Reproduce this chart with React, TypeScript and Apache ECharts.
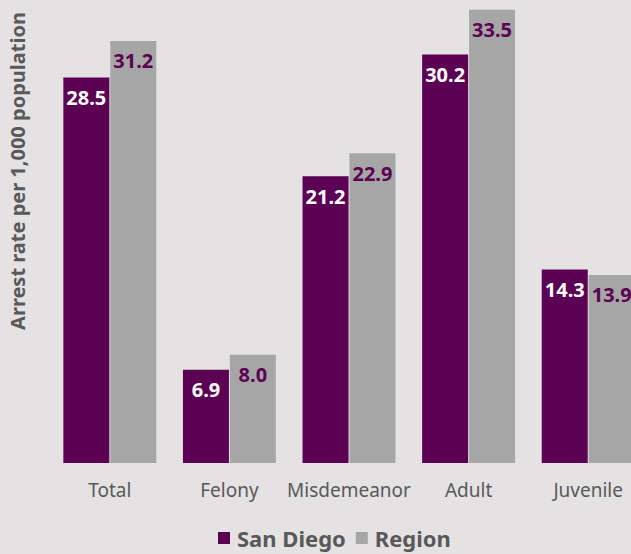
import React, { useEffect, useRef } from "react";
import * as echarts from "echarts";

const categories = ["Total", "Felony", "Misdemeanor", "Adult", "Juvenile"];
const sanDiego = [28.5, 6.9, 21.2, 30.2, 14.3];
const region = [31.2, 8.0, 22.9, 33.5, 13.9];
const yAxisTitle = "Arrest rate per 1,000 population";

const PURPLE = "#5b0052";
const GRAY = "#a6a6a6";
const TEXT = "#595959";
const FONT = "'Noto Sans', 'Open Sans', sans-serif";

export default function App() {
  const ref = useRef<HTMLDivElement>(null);
  useEffect(() => {
    if (!ref.current) return;
    const chart = echarts.init(ref.current, undefined, { renderer: "svg" });
    chart.setOption({
      animation: false,
      backgroundColor: "#e4e2e3",
      textStyle: { fontFamily: FONT },
      grid: { left: 50, right: 0, top: 3, bottom: 91, containLabel: false },
      legend: {
        top: 522,
        left: 213,
        itemWidth: 12,
        itemHeight: 12,
        itemGap: 10,
        icon: "rect",
        textStyle: { color: TEXT, fontSize: 22, fontWeight: "bold", fontFamily: FONT, padding: [0, 0, 0, 2], lineHeight: 22 },
        data: ["San Diego", "Region"],
      },
      graphic: [
        {
          type: "text",
          x: 17,
          y: 171,
          rotation: Math.PI / 2,
          style: {
            text: yAxisTitle,
            fill: TEXT,
            font: `bold 20px ${FONT}`,
            textAlign: "center",
            textVerticalAlign: "middle",
          },
        },
      ],
      xAxis: {
        type: "category",
        data: categories,
        axisLine: { show: false },
        axisTick: { show: false },
        axisLabel: { color: TEXT, fontSize: 19, margin: 17, fontFamily: FONT, interval: 0 },
      },
      yAxis: {
        type: "value",
        min: 0,
        max: 34,
        show: false,
        splitLine: { show: false },
      },
      series: [
        {
          name: "San Diego",
          type: "bar",
          data: sanDiego,
          barWidth: 46,
          barGap: "2%",
          itemStyle: { color: PURPLE },
          label: {
            show: true,
            position: "insideTop",
            distance: 10,
            color: "#ffffff",
            fontSize: 20,
            fontWeight: "bold",
            fontFamily: FONT,
            formatter: (p: any) => Number(p.value).toFixed(1),
          },
        },
        {
          name: "Region",
          type: "bar",
          data: region,
          barWidth: 46,
          barGap: "2%",
          itemStyle: { color: GRAY },
          label: {
            show: true,
            position: "insideTop",
            distance: 10,
            color: PURPLE,
            fontSize: 20,
            fontWeight: "bold",
            fontFamily: FONT,
            formatter: (p: any) => Number(p.value).toFixed(1),
          },
        },
      ],
    });
    return () => chart.dispose();
  }, []);
  return (
    <div style={{ position: "absolute", left: 0, top: 0, width: 631, height: 554, overflow: "hidden" }}>
      <div ref={ref} style={{ width: 648, height: 554 }} />
    </div>
  );
}
